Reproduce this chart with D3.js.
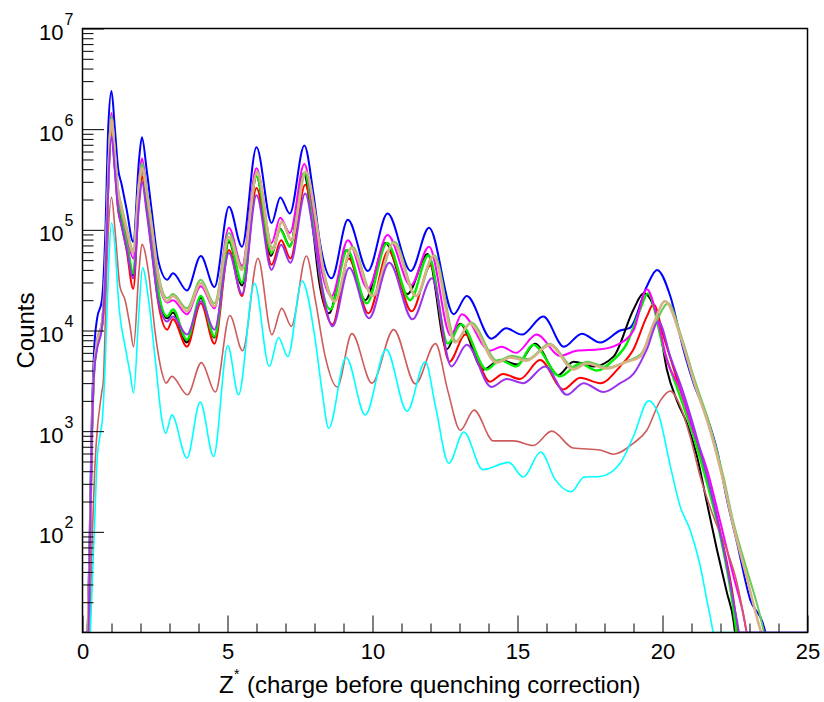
<!DOCTYPE html>
<html lang="en">
<head>
  <meta charset="UTF-8">
  <title>Z* spectra</title>
  <style>
    body {
      margin: 0;
      background: #fff;
    }

    svg text {
      font-family: "Liberation Sans", Arial, sans-serif;
      fill: #000;
    }
  </style>
</head>
<body>
  <svg id="chart" width="824" height="702"></svg>

  <script src="https://d3js.org/d3.v7.min.js"></script>
  <script>
    // [Z*, counts], one array per histogram
    const blueData = [[0.18,10],[0.25,100],[0.32,1300],[0.4,6300],[0.5,13000],[0.67,20000],[0.78,79000],[0.89,1.07e6],[1.0,2.4e6],[1.11,1.07e6],[1.23,4.0e5],[1.34,2.9e5],[1.52,1.6e5],[1.75,7.6e4],[1.95,5.0e5],[2.05,8.3e5],[2.21,4.0e5],[2.38,1.6e5],[2.61,5.0e4],[2.92,3.2e4],[3.12,3.7e4],[3.6,2.5e4],[4.08,5.5e4],[4.55,2.7e4],[5.05,1.7e5],[5.5,6.8e4],[6.0,6.6e5],[6.52,1.17e5],[6.82,2.1e5],[7.15,1.45e5],[7.65,6.9e5],[7.96,2.3e5],[8.19,7.4e4],[8.59,3.3e4],[9.15,1.26e5],[9.84,3.9e4],[10.52,1.45e5],[11.32,3.9e4],[11.95,1.05e5],[12.8,1.45e4],[13.25,2.2e4],[14.1,8300],[14.61,10500],[15.15,9100],[15.89,13800],[16.6,6900],[17.22,9300],[17.85,7600],[18.54,10000],[18.89,10700],[19.46,27500],[19.81,40000],[20.27,21900],[20.72,6500],[21.07,3000],[21.53,1400],[21.88,650],[22.22,210],[22.57,78],[23.03,21],[23.45,12.6],[23.55,10]];

    const magentaData = [[0.18,10],[0.25,70],[0.32,900],[0.4,4200],[0.5,8000],[0.67,12000],[0.8,50000],[0.9,4.5e5],[1.0,1.45e6],[1.11,6.3e5],[1.23,2.2e5],[1.34,1.6e5],[1.52,9.3e4],[1.75,5.2e4],[1.95,3.2e5],[2.05,5.1e5],[2.21,2.5e5],[2.38,1.0e5],[2.61,3.2e4],[2.92,1.9e4],[3.12,2.0e4],[3.6,1.45e4],[4.08,2.75e4],[4.55,1.66e4],[5.05,1.05e5],[5.5,4.4e4],[6.0,4.1e5],[6.52,7.4e4],[6.82,1.32e5],[7.15,9.3e4],[7.65,4.5e5],[7.96,1.48e5],[8.19,4.8e4],[8.59,2.2e4],[9.15,7.9e4],[9.84,2.6e4],[10.52,8.9e4],[11.32,2.8e4],[11.95,6.8e4],[12.7,8900],[13.08,14500],[14.05,6300],[14.45,6900],[14.95,6000],[15.66,9100],[16.47,5600],[17.04,6300],[17.85,6500],[18.43,7200],[19.0,10000],[19.46,25700],[19.81,13800],[20.15,5100],[20.61,2600],[21.07,1000],[21.53,420],[22.0,123],[22.45,36],[22.8,14.5],[22.9,10]];

    const greenData = [[0.18,10],[0.25,60],[0.32,800],[0.4,4000],[0.5,7000],[0.67,11000],[0.8,45000],[0.9,4.0e5],[1.0,1.32e6],[1.11,5.6e5],[1.23,2.0e5],[1.34,1.41e5],[1.52,7.9e4],[1.75,3.7e4],[1.95,2.8e5],[2.05,4.5e5],[2.21,2.2e5],[2.38,8.9e4],[2.61,2.5e4],[2.92,1.38e4],[3.12,1.62e4],[3.6,8100],[4.08,2.2e4],[4.55,8700],[5.05,7.9e4],[5.5,3.0e4],[6.0,3.4e5],[6.52,5.9e4],[6.82,1.0e5],[7.15,6.8e4],[7.65,3.7e5],[7.96,1.26e5],[8.19,3.5e4],[8.55,1.62e4],[9.13,6.3e4],[9.8,1.86e4],[10.5,7.4e4],[11.3,2.0e4],[11.93,5.6e4],[12.6,7400],[13.05,11500],[13.94,4100],[14.4,5100],[14.95,4400],[15.55,7200],[16.47,3500],[17.16,4700],[17.73,4000],[18.31,5100],[18.77,7400],[19.23,16200],[19.5,23400],[20.04,6500],[20.61,2200],[21.07,890],[21.53,310],[22.0,89],[22.4,21],[22.55,10]];

    const blackData = [[0.18,10],[0.25,60],[0.32,800],[0.4,4000],[0.5,7000],[0.67,11000],[0.8,45000],[0.9,3.8e5],[1.0,1.15e6],[1.11,5.0e5],[1.23,1.9e5],[1.34,1.32e5],[1.52,7.6e4],[1.75,3.5e4],[1.95,2.5e5],[2.05,4.0e5],[2.21,2.0e5],[2.38,7.9e4],[2.61,2.4e4],[2.92,1.32e4],[3.12,1.51e4],[3.6,7600],[4.08,2.1e4],[4.55,8500],[5.05,7.6e4],[5.5,2.8e4],[6.0,3.4e5],[6.5,5.5e4],[6.82,1.02e5],[7.15,6.9e4],[7.63,3.6e5],[7.93,1.12e5],[8.15,3.2e4],[8.5,1.48e4],[9.1,6.3e4],[9.75,2.0e4],[10.45,7.4e4],[11.2,2.3e4],[11.9,5.75e4],[12.56,6500],[13.02,11700],[13.82,4100],[14.4,5100],[15.0,4600],[15.6,7400],[16.4,3600],[16.93,4900],[17.62,4400],[18.31,5500],[19.0,16200],[19.35,23400],[19.86,12000],[20.15,4100],[20.5,2000],[20.84,1200],[21.19,560],[21.53,195],[21.88,66],[22.22,25],[22.45,13],[22.5,10]];

    const redData = [[0.18,10],[0.25,60],[0.32,800],[0.4,4000],[0.5,7000],[0.67,11000],[0.8,45000],[0.9,3.5e5],[1.0,9.8e5],[1.11,4.2e5],[1.23,1.58e5],[1.34,1.12e5],[1.52,6.3e4],[1.75,2.6e4],[1.95,2.0e5],[2.05,3.4e5],[2.21,1.66e5],[2.38,6.6e4],[2.61,1.9e4],[2.92,1.02e4],[3.12,1.29e4],[3.6,6900],[4.08,1.86e4],[4.55,7400],[5.05,6.3e4],[5.5,2.2e4],[6.0,2.6e5],[6.52,4.5e4],[6.85,7.9e4],[7.17,5.2e4],[7.68,2.8e5],[8.0,8.9e4],[8.22,2.8e4],[8.62,1.15e4],[9.18,5.2e4],[9.86,1.48e4],[10.55,6.2e4],[11.35,1.55e4],[12.0,4.4e4],[12.65,4900],[13.2,9100],[14.05,3100],[14.5,3700],[15.09,3300],[15.78,5100],[16.58,2600],[17.16,3400],[17.85,3000],[18.54,4400],[19.0,6500],[19.46,13800],[19.69,18200],[20.04,8700],[20.61,2600],[21.07,1000],[21.53,355],[22.0,98],[22.45,21],[22.6,10]];

    const purpleData = [[0,10],[0.2,10],[0.25,60],[0.32,800],[0.4,3800],[0.5,6500],[0.67,10500],[0.8,42000],[0.9,3.3e5],[1.0,8.5e5],[1.11,4.0e5],[1.23,1.58e5],[1.34,1.12e5],[1.52,6.6e4],[1.75,3.3e4],[1.95,1.78e5],[2.05,3.0e5],[2.21,1.51e5],[2.38,6.3e4],[2.61,2.0e4],[2.92,1.23e4],[3.12,1.38e4],[3.6,9100],[4.08,1.95e4],[4.55,1.02e4],[5.05,5.9e4],[5.5,2.3e4],[6.0,2.2e5],[6.52,4.0e4],[6.85,7.1e4],[7.17,4.7e4],[7.68,2.3e5],[8.0,7.9e4],[8.25,2.8e4],[8.62,1.1e4],[9.2,4.2e4],[9.88,1.32e4],[10.58,4.7e4],[11.38,1.29e4],[12.05,3.3e4],[12.72,4400],[13.25,7200],[14.1,2750],[14.63,3300],[15.2,3000],[15.95,4400],[16.7,2300],[17.28,3000],[17.97,2450],[18.54,3000],[19.0,3700],[19.46,6500],[19.86,12300],[20.27,5500],[20.72,2400],[21.3,650],[21.76,195],[22.22,46],[22.57,13],[22.65,10],[25,10]];

    const tanData = [[0.18,10],[0.25,60],[0.32,800],[0.4,4000],[0.5,7500],[0.67,11500],[0.8,48000],[0.9,4.2e5],[1.0,1.23e6],[1.11,6.0e5],[1.23,2.4e5],[1.34,1.66e5],[1.52,1.0e5],[1.75,5.9e4],[1.95,2.8e5],[2.05,4.1e5],[2.21,2.4e5],[2.38,1.12e5],[2.61,3.5e4],[2.92,1.95e4],[3.12,2.2e4],[3.6,1.55e4],[4.08,2.95e4],[4.55,1.74e4],[5.05,8.5e4],[5.5,4.0e4],[6.02,3.7e5],[6.55,6.3e4],[6.88,1.2e5],[7.2,7.9e4],[7.7,3.8e5],[8.05,1.26e5],[8.3,4.0e4],[8.7,1.95e4],[9.28,6.6e4],[10.0,2.2e4],[10.72,7.4e4],[11.5,2.2e4],[12.1,5.5e4],[12.85,7600],[13.36,11700],[14.28,4800],[14.75,5400],[15.3,5000],[16.12,7200],[16.93,4100],[17.39,4700],[18.08,4200],[18.77,4900],[19.23,5500],[19.69,11700],[20.09,19500],[20.61,8900],[21.07,3200],[21.65,1000],[22.1,316],[22.45,112],[22.91,35],[23.3,12.6],[23.4,10]];

    const lightGreenData = [[0.18,10],[0.25,60],[0.32,800],[0.4,4000],[0.5,7800],[0.67,12000],[0.8,50000],[0.9,4.5e5],[1.0,1.35e6],[1.11,6.3e5],[1.23,2.5e5],[1.34,1.78e5],[1.52,1.07e5],[1.75,6.3e4],[1.95,3.0e5],[2.05,4.6e5],[2.21,2.6e5],[2.38,1.2e5],[2.61,3.8e4],[2.92,2.1e4],[3.12,2.3e4],[3.6,1.66e4],[4.08,3.2e4],[4.55,1.86e4],[5.05,9.3e4],[5.5,4.2e4],[6.02,3.8e5],[6.55,6.6e4],[6.88,1.2e5],[7.2,7.9e4],[7.7,3.8e5],[8.05,1.26e5],[8.3,4.2e4],[8.72,2.0e4],[9.3,6.8e4],[10.02,2.2e4],[10.75,7.6e4],[11.52,2.2e4],[12.13,5.6e4],[12.88,7800],[13.4,12000],[14.3,5000],[14.8,5600],[15.35,5200],[16.1,7400],[16.95,4300],[17.4,4900],[18.1,4300],[18.8,5000],[19.25,5800],[19.75,11700],[20.2,18600],[20.61,9500],[21.07,3500],[21.65,1100],[22.1,355],[22.45,123],[22.91,42],[23.37,14.5],[23.5,10]];

    const indianRedData = [[0.25,10],[0.33,80],[0.42,400],[0.48,800],[0.66,2400],[0.72,3200],[0.84,44000],[1.0,2.1e5],[1.13,9.3e4],[1.29,2.75e4],[1.47,2.0e4],[1.64,1.1e4],[1.76,6900],[1.95,4.0e4],[2.05,7.2e4],[2.28,3.7e4],[2.51,9300],[2.74,3800],[2.88,3000],[3.08,3500],[3.62,2300],[4.1,4800],[4.58,2450],[5.08,1.41e4],[5.52,6300],[6.05,5.2e4],[6.53,9100],[6.87,1.66e4],[7.2,1.1e4],[7.72,5.5e4],[8.03,2.0e4],[8.37,5500],[8.78,2750],[9.29,9300],[9.98,3000],[10.73,1.02e4],[11.48,2950],[12.17,7400],[12.6,2500],[13.03,1020],[13.5,1620],[14.17,800],[14.86,800],[15.55,720],[16.18,1000],[16.92,680],[17.85,650],[18.31,590],[19.0,760],[19.46,1020],[19.92,2000],[20.27,2500],[20.61,1780],[20.95,890],[21.3,355],[21.76,141],[22.22,66],[22.57,31],[22.8,14.5],[22.9,10]];

    const cyanData = [[0.27,10],[0.35,40],[0.42,126],[0.5,500],[0.6,890],[0.68,1260],[0.78,4400],[0.9,44000],[1.0,1.17e5],[1.13,6.3e4],[1.24,2.0e4],[1.47,6900],[1.64,3800],[1.76,2400],[1.95,1.58e4],[2.07,4.2e4],[2.28,2.0e4],[2.51,5100],[2.74,1290],[2.87,950],[3.08,1450],[3.6,540],[4.06,1950],[4.52,560],[5.01,7100],[5.38,2300],[5.93,2.95e4],[6.44,4400],[6.76,8500],[7.08,5500],[7.57,3.1e4],[8.03,7900],[8.26,2500],[8.49,1070],[9.09,5400],[9.75,1450],[10.47,6500],[11.19,1580],[11.82,4900],[12.17,1780],[12.63,480],[13.15,980],[13.8,415],[14.7,490],[15.2,350],[15.8,620],[16.3,330],[16.85,250],[17.3,350],[17.85,355],[18.54,480],[19.0,890],[19.52,2000],[19.86,1480],[20.27,450],[20.61,178],[20.95,105],[21.3,46],[21.53,21],[21.71,11.5],[21.75,10],[25,10]];

    const xTicks = [0, 5, 10, 15, 20, 25];
    const yDecades = [2, 3, 4, 5, 6, 7];

    // draw order matters a bit: purple ends up on top of the zero line
    const series = [
      { data: blueData, color: "#0000ff", width: 2 },
      { data: blackData, color: "#000000", width: 2 },
      { data: redData, color: "#ff0000", width: 2 },
      { data: greenData, color: "#00ee00", width: 2.4 },
      { data: magentaData, color: "#ff00ff", width: 2 },
      { data: lightGreenData, color: "#66cc55", width: 2 },
      { data: tanData, color: "#d6b286", width: 2.6 },
      { data: indianRedData, color: "#cd5c5c", width: 1.6 },
      { data: cyanData, color: "#00ffff", width: 1.6 },
      { data: purpleData, color: "#9933ee", width: 2 }
    ];

    const svg = d3.select("#chart");
    const plotLeft = 82.5, plotRight = 807.5, plotTop = 28.5, plotBottom = 632.5;

    const xScale = d3.scaleLinear().domain([0, 25]).range([plotLeft, plotRight]);
    const yScale = d3.scaleLog().domain([10, 1e7]).range([plotBottom, plotTop]);

    svg.append("clipPath").attr("id", "frameClip")
      .append("rect")
      .attr("x", plotLeft).attr("y", plotTop - 1)
      .attr("width", plotRight - plotLeft).attr("height", plotBottom - plotTop + 1);

    // Histograms
    const line = d3.line()
      .x(d => xScale(d[0]))
      .y(d => yScale(d[1]))
      .curve(d3.curveMonotoneX);

    const curves = svg.append("g").attr("clip-path", "url(#frameClip)");
    series.forEach(s => {
      curves.append("path")
        .datum(s.data)
        .attr("fill", "none")
        .attr("stroke", s.color)
        .attr("stroke-width", s.width)
        .attr("stroke-linejoin", "round")
        .attr("d", line);
    });

    // X axis: ticks point into the frame
    const minorX = d3.range(0, 26, 1).filter(v => v % 5 !== 0);
    svg.append("g")
      .attr("transform", `translate(0,${plotBottom})`)
      .call(d3.axisBottom(xScale).tickValues(minorX).tickSize(-9).tickFormat(""))
      .call(g => g.select(".domain").remove());

    svg.append("g")
      .attr("transform", `translate(0,${plotBottom})`)
      .call(d3.axisBottom(xScale).tickValues(xTicks).tickSize(-17).tickPadding(11).tickFormat(d3.format("d")))
      .call(g => g.select(".domain").remove())
      .call(g => g.selectAll("text")
        .style("font-family", '"Liberation Sans", Arial, sans-serif')
        .style("font-size", "22px")
        .attr("fill", "#000"));

    // Y axis: log, minor ticks at 2..9 of each decade
    const minorY = [];
    for (let e = 1; e < 7; e++) {
      for (let m = 2; m <= 9; m++) minorY.push(m * Math.pow(10, e));
    }
    svg.append("g")
      .attr("transform", `translate(${plotLeft},0)`)
      .call(d3.axisLeft(yScale).tickValues(minorY).tickSize(-11).tickFormat(""))
      .call(g => g.select(".domain").remove());

    svg.append("g")
      .attr("transform", `translate(${plotLeft},0)`)
      .call(d3.axisLeft(yScale).tickValues(yDecades.map(e => Math.pow(10, e))).tickSize(-21.5).tickFormat(""))
      .call(g => g.select(".domain").remove());

    svg.selectAll(".tick line").attr("stroke", "#000").attr("stroke-width", 1);

    // Y tick labels as 10 with a raised exponent
    yDecades.forEach(e => {
      const y = yScale(Math.pow(10, e));
      svg.append("text")
        .attr("x", 63.5).attr("y", y + 11.5)
        .attr("text-anchor", "end")
        .style("font-size", "22px")
        .text("10");
      svg.append("text")
        .attr("x", 64.5).attr("y", y - 3.5)
        .style("font-size", "16px")
        .text(e);
    });

    // Frame
    svg.append("rect")
      .attr("x", plotLeft).attr("y", plotTop)
      .attr("width", plotRight - plotLeft).attr("height", plotBottom - plotTop)
      .attr("fill", "none")
      .attr("stroke", "#000")
      .attr("stroke-width", 1.5);

    // Axis titles
    svg.append("text")
      .attr("x", 219).attr("y", 693)
      .style("font-size", "24px")
      .text("Z");
    svg.append("text")
      .attr("x", 234).attr("y", 679)
      .style("font-size", "14px")
      .text("*");
    svg.append("text")
      .attr("x", 247).attr("y", 693)
      .style("font-size", "24px")
      .text("(charge before quenching correction)");

    svg.append("text")
      .attr("transform", `translate(34,${(plotTop + plotBottom) / 2}) rotate(-90)`)
      .attr("text-anchor", "middle")
      .style("font-size", "24px")
      .text("Counts");
  </script>
</body>
</html>
